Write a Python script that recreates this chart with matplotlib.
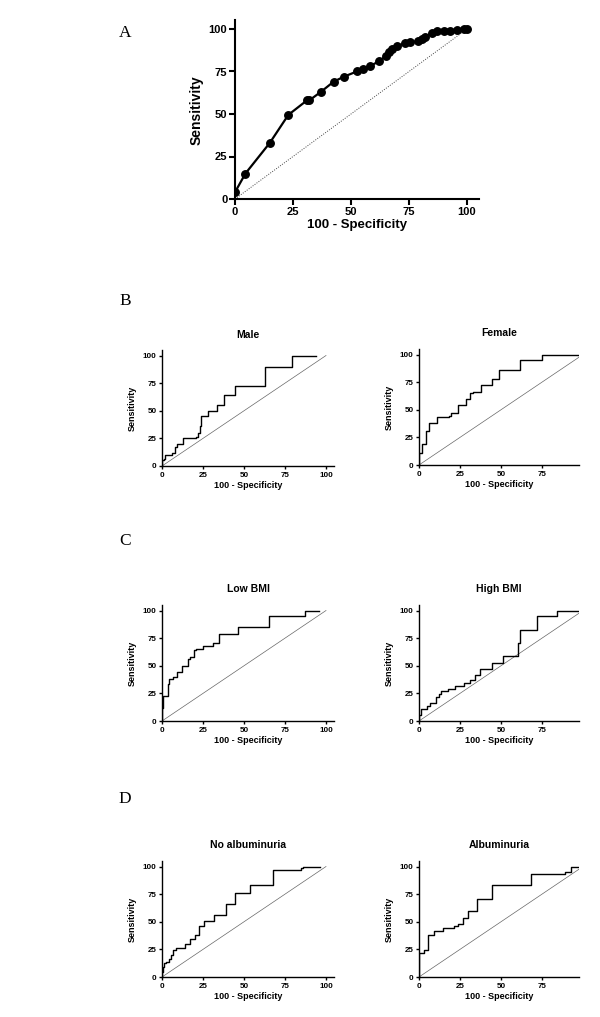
import matplotlib
matplotlib.use('Agg')
import matplotlib.pyplot as plt

plt.rcParams['font.family'] = ['Liberation Sans', 'DejaVu Sans']
plt.rcParams['font.weight'] = 'bold'

# ---- data ----
ticks = [0, 25, 50, 75, 100]

# panel A: all patients
all_fpr = [0, 4.5, 15, 23, 31, 32, 37, 42.5, 47, 52.5, 55, 58, 62, 65, 66.2, 67.6,
           69.8, 73.4, 75.5, 78.8, 80.6, 82, 84.9, 87, 90, 92.8, 95.7, 98.6, 100]
all_tpr = [4, 15, 33, 49.5, 58, 58, 63, 69, 72, 75, 76.5, 78, 81, 84, 86.2, 88.2,
           89.8, 91.7, 92.1, 92.7, 94.1, 95.3, 97.6, 98.6, 98.6, 98.6, 99.6, 100, 100]

# panel B
male_fpr = [0, 0, 1, 2, 6, 8, 9, 13, 21, 22, 23, 24, 28, 33.5, 38, 44.5, 63, 79, 94]
male_tpr = [0, 5, 6, 10, 12, 17, 20, 25, 26.5, 30, 36, 45, 50, 55, 64.5, 72, 90, 100, 100]

female_fpr = [0, 0, 2, 4.3, 6.3, 11.2, 18, 19.6, 24, 28.5, 30.8, 32.8, 37.7, 44.4,
              48.5, 61.7, 75, 98]
female_tpr = [0, 10.7, 19, 31, 38, 43.6, 44.8, 47, 54, 60, 65.5, 66.5, 72.5, 77.7,
              86, 94.8, 100, 100]

# panel C
lowbmi_fpr = [0, 0, 0.8, 3.4, 4.4, 6.5, 8.9, 11.9, 15.9, 16.9, 19.4, 21, 25, 31,
              34.5, 46.2, 65, 87, 96]
lowbmi_tpr = [0, 12, 23, 33.7, 38, 39.8, 44, 50, 56, 58, 64, 65.4, 67.8, 70.5,
              78.3, 85.5, 94.6, 100, 100]

highbmi_fpr = [0, 0, 1.4, 4.9, 6.5, 10.6, 12.3, 13.7, 17.8, 21.9, 27.4, 31, 34.1,
               37.2, 44.3, 51.5, 60.3, 61.7, 71.9, 84.2, 98]
highbmi_tpr = [0, 5, 10.5, 13.5, 16.3, 21.7, 24.7, 26.8, 29.2, 31.3, 34.3, 36.7,
               41.9, 46.7, 52.4, 58.4, 70.5, 82, 94.6, 99.4, 99.4]

# panel D
noalb_fpr = [0, 0, 0.8, 1.4, 2.4, 4.4, 5.4, 6.5, 8.5, 13.9, 16.9, 20, 22.6, 25.4,
             32, 39, 44.8, 53.8, 67.7, 84.5, 86, 96.6]
noalb_tpr = [0, 4.5, 9, 12.7, 14, 16.6, 19.6, 24, 26.5, 29.5, 34, 37.7, 46, 50.3,
             55.7, 65.7, 75.9, 83.4, 97, 98.8, 100, 100]

alb_fpr = [0, 0, 2.9, 5.5, 9, 14.7, 21.3, 23.9, 27, 29.6, 35.6, 44.8, 68.3, 89.3,
           92.4, 98]
alb_tpr = [0, 21.7, 24.7, 37.7, 41.6, 44.6, 46, 47.6, 53, 59.6, 70.8, 83.4, 93.4,
           94.9, 99.4, 99.4]

W, H = 600, 1017
fig = plt.figure(figsize=(W / 100, H / 100), dpi=100)


def px_axes(left, bottom, width, height):
    # pixel box (left, y of x-axis, width, height) -> figure fraction
    return fig.add_axes([left / W, (H - bottom) / H, width / W, height / H])


def style(ax, lw, fs, xmax, xticks):
    for s in ['top', 'right']:
        ax.spines[s].set_visible(False)
    for s in ['left', 'bottom']:
        ax.spines[s].set_linewidth(lw)
    ax.set_xlim(0, xmax)
    ax.set_ylim(0, 105)
    ax.set_xticks(xticks)
    ax.set_yticks(ticks)
    ax.tick_params(width=lw, length=3 * lw, labelsize=fs, pad=1.5)
    for lab in ax.get_xticklabels() + ax.get_yticklabels():
        lab.set_fontweight('bold')


# ---- panel A ----
axA = px_axes(235, 199, 243.6, 178.5)
axA.plot([0, 100], [0, 100], color='#444444', lw=0.7, ls=(0, (1, 1.5)))
axA.plot(all_fpr, all_tpr, color='black', lw=1.6, marker='o', ms=5.4, zorder=3)
style(axA, 1.5, 8, 105, ticks)
axA.set_ylabel('Sensitivity', fontsize=10, fontweight='bold', labelpad=4)
axA.set_xlabel('100 - Specificity', fontsize=9.5, fontweight='bold', labelpad=2)
axA.tick_params(length=4)


# ---- small panels ----
def small(left, y0, fpr, tpr, title, xmax, xticks):
    ax = px_axes(left, y0, 1.64 * xmax, 116)
    ax.plot([0, 100], [0, 100], color='#666666', lw=0.5)
    ax.plot(fpr, tpr, color='black', lw=1.0, drawstyle='steps-post')
    style(ax, 1.0, 5.8, xmax, xticks)
    ax.tick_params(length=2.5)
    ax.set_ylabel('Sensitivity', fontsize=6.5, fontweight='bold', labelpad=4)
    ax.set_xlabel('100 - Specificity', fontsize=6.5, fontweight='bold', labelpad=2)
    ax.set_title(title, fontsize=7.5, fontweight='bold', pad=9)
    return ax


small(162, 466, male_fpr, male_tpr, 'Male', 105, ticks)
small(419, 465, female_fpr, female_tpr, 'Female', 97.5, ticks[:-1])
small(162, 721, lowbmi_fpr, lowbmi_tpr, 'Low BMI', 105, ticks)
small(419, 721, highbmi_fpr, highbmi_tpr, 'High BMI', 97.5, ticks[:-1])
small(162, 977, noalb_fpr, noalb_tpr, 'No albuminuria', 105, ticks)
small(419, 977, alb_fpr, alb_tpr, 'Albuminuria', 97.5, ticks[:-1])

# ---- panel letters ----
for letter, y in [('A', 33), ('B', 301), ('C', 541), ('D', 799)]:
    fig.text(125 / W, 1 - y / H, letter, fontsize=12.5, family='Liberation Serif',
             fontweight='normal', ha='center', va='center')

fig.savefig('out.png', dpi=100)
